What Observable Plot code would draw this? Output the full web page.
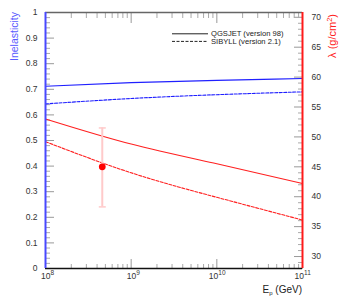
<!DOCTYPE html>
<html><head><meta charset="utf-8">
<script src="https://cdn.jsdelivr.net/npm/d3@7"></script>
<script src="https://cdn.jsdelivr.net/npm/@observablehq/plot@0.6"></script>
<style>body{margin:0;background:#fff;} #chart{width:346px;height:303px;}</style>
</head><body><div id="chart"></div>
<script>
// ---- data ----
const energies = [1e8, 1e9, 1e10, 1e11];            // E_p (GeV)
const qgsjetInel = [0.712, 0.726, 0.735, 0.742];     // inelasticity, QGSJET 98
const sibyllInel = [0.643, 0.664, 0.679, 0.690];     // inelasticity, SIBYLL 2.1
const qgsjetLambda = [53.0, 48.8, 45.5, 42.2];       // λ (g/cm²), QGSJET 98
const sibyllLambda = [49.2, 44.0, 39.9, 36.1];       // λ (g/cm²), SIBYLL 2.1
const measEnergy = [4.6e8];
const measLambda = [45.0];
const measLow = [38.3];
const measHigh = [51.5];
// ---- axes ----
const inelTicks = [0, 0.1, 0.2, 0.3, 0.4, 0.5, 0.6, 0.7, 0.8, 0.9, 1];
const lambdaTicks = [30, 35, 40, 45, 50, 55, 60, 65, 70];
const lambdaDomain = [28, 70.8];
const xExponents = [8, 9, 10, 11];
const legendLabels = ["QGSJET (version 98)", "SIBYLL (version 2.1)"];

const blue = "#2020ff", red = "#ff2020";
const lam = d3.scaleLinear().domain(lambdaDomain).range([0, 1]);
const inelMinor = d3.range(0, 51).map(i => i / 50).filter(v => Math.abs(v * 10 - Math.round(v * 10)) > 1e-6);
const lambdaMinor = d3.range(28, 71).filter(v => v % 5 !== 0);
const decades = xExponents.map(e => 10 ** e);
const xMinor = [];
for (const e of [8, 9, 10]) for (let m = 2; m <= 9; m++) xMinor.push(m * 10 ** e);

const rows = (ys) => energies.map((e, i) => ({e, v: ys[i]}));
const meas = measEnergy.map((e, i) => ({e, l: measLambda[i], lo: measLow[i], hi: measHigh[i]}));
const capSymbol = {draw(ctx) { ctx.moveTo(-3.5, 0); ctx.lineTo(3.5, 0); }};
const font = "Liberation Sans, Arial, Helvetica, sans-serif";

const plot = Plot.plot({
  width: 346, height: 303,
  marginLeft: 45, marginRight: 44, marginTop: 12, marginBottom: 35,
  style: {fontFamily: font, fontSize: "8.5px", background: "white", color: "#333"},
  x: {type: "log", domain: [1e8, 1e11], axis: null},
  y: {domain: [0, 1], axis: null},
  marks: [
    // left axis (inelasticity)
    Plot.axisY(inelMinor, {anchor: "left", tickSize: -5, fill: null, stroke: "#aaa", label: null}),
    Plot.axisY(inelTicks, {anchor: "left", tickSize: -9, fill: null, stroke: "#999", label: null}),
    Plot.axisY(inelTicks, {anchor: "left", tickSize: 0, tickPadding: 8, fill: "#333", label: null, tickFormat: d => String(+d.toFixed(1))}),
    // right axis (lambda)
    Plot.axisY(lambdaMinor.map(lam), {anchor: "right", tickSize: -5, fill: null, stroke: "#aaa", label: null}),
    Plot.axisY(lambdaTicks.map(lam), {anchor: "right", tickSize: -9, fill: null, stroke: "#999", label: null}),
    Plot.axisY(lambdaTicks.map(lam), {anchor: "right", tickSize: 0, tickPadding: 9, fill: "#333", label: null, tickFormat: d => String(Math.round(lam.invert(d)))}),
    // bottom / top ticks
    Plot.axisX(xMinor, {anchor: "bottom", tickSize: -4, fill: null, stroke: "#aaa", label: null}),
    Plot.axisX(decades, {anchor: "bottom", tickSize: -9, fill: null, stroke: "#999", label: null}),
    Plot.axisX(xMinor, {anchor: "top", tickSize: -5, fill: null, stroke: "#aaa", label: null}),
    Plot.axisX(decades, {anchor: "top", tickSize: -10, fill: null, stroke: "#999", label: null}),
    // x tick labels 10^n
    Plot.text(xExponents.filter(e => e < 10), {x: e => 10 ** e, frameAnchor: "bottom", text: () => "10", textAnchor: "end", dx: 5, dy: 10, fontSize: 8.5, fill: "#333"}),
    Plot.text(xExponents.filter(e => e < 10), {x: e => 10 ** e, frameAnchor: "bottom", text: e => String(e), textAnchor: "start", dx: 5, dy: 6.5, fontSize: 6.5, fill: "#333"}),
    Plot.text(xExponents.filter(e => e >= 10), {x: e => 10 ** e, frameAnchor: "bottom", text: () => "10", textAnchor: "end", dx: 1.5, dy: 10, fontSize: 8.5, fill: "#333"}),
    Plot.text(xExponents.filter(e => e >= 10), {x: e => 10 ** e, frameAnchor: "bottom", text: e => String(e), textAnchor: "start", dx: 1.5, dy: 6.5, fontSize: 6.5, fill: "#333"}),
    // curves
    Plot.line(rows(qgsjetInel), {x: "e", y: "v", stroke: blue, strokeWidth: 1.1, curve: "natural"}),
    Plot.line(rows(sibyllInel), {x: "e", y: "v", stroke: blue, strokeWidth: 1.1, strokeDasharray: "3,1.5", curve: "natural"}),
    Plot.line(rows(qgsjetLambda), {x: "e", y: d => lam(d.v), stroke: red, strokeWidth: 1.1, curve: "natural"}),
    Plot.line(rows(sibyllLambda), {x: "e", y: d => lam(d.v), stroke: red, strokeWidth: 1.1, strokeDasharray: "3,1.5", curve: "natural"}),
    // measurement
    Plot.ruleX(meas, {x: "e", y1: d => lam(d.lo), y2: d => lam(d.hi), stroke: "#ffcaca", strokeWidth: 2}),
    Plot.dot(meas, {x: "e", y: d => lam(d.lo), symbol: capSymbol, stroke: "#ffcaca", strokeWidth: 1.5, fill: "none"}),
    Plot.dot(meas, {x: "e", y: d => lam(d.hi), symbol: capSymbol, stroke: "#ffcaca", strokeWidth: 1.5, fill: "none"}),
    Plot.dot(meas, {x: "e", y: d => lam(d.l), r: 3.4, fill: "#ff0000", stroke: "none"}),
    // frame
    Plot.ruleY([1], {stroke: "#666", strokeWidth: 1.3}),
    Plot.ruleY([0], {stroke: "#111", strokeWidth: 1.5}),
    Plot.ruleX([1e8], {stroke: "#4848ff", strokeWidth: 2}),
    Plot.ruleX([1e11], {stroke: "#ff1a1a", strokeWidth: 2})
  ]
});

const svg = d3.select(plot);
// axis titles
svg.append("text").attr("transform", "translate(18,12) rotate(-90)").attr("text-anchor", "end")
  .attr("font-family", font).attr("font-size", 10.5).attr("fill", "#5a5aff").text("Inelasticity");
const rt = svg.append("text").attr("transform", "translate(335.5,14) rotate(-90)").attr("text-anchor", "end")
  .attr("font-family", font).attr("font-size", 11).attr("fill", "#ff2020");
rt.append("tspan").text("λ (g/cm");
rt.append("tspan").attr("dy", -4).attr("font-size", 7.5).text("2");
rt.append("tspan").attr("dy", 4).text(")");
const xt = svg.append("text").attr("x", 302).attr("y", 293).attr("text-anchor", "end")
  .attr("font-family", font).attr("font-size", 10).attr("fill", "#222");
xt.append("tspan").text("E");
xt.append("tspan").attr("dy", 2).attr("font-size", 6).text("p");
xt.append("tspan").attr("dy", -2).text(" (GeV)");
// legend
const lg = svg.append("g").attr("font-family", font).attr("font-size", 7.6).attr("fill", "#222")
  .attr("text-anchor", "start");
[[33.8, null], [41.4, "3,1.5"]].forEach(([y, dash], i) => {
  const ln = lg.append("line").attr("x1", 172).attr("x2", 208).attr("y1", y).attr("y2", y)
    .attr("stroke", "#222").attr("stroke-width", 1);
  if (dash) ln.attr("stroke-dasharray", dash);
  lg.append("text").attr("x", 211).attr("y", y).attr("dy", "0.35em").attr("text-anchor", "start").text(legendLabels[i]);
});

document.getElementById("chart").appendChild(plot);
</script>
</body></html>
